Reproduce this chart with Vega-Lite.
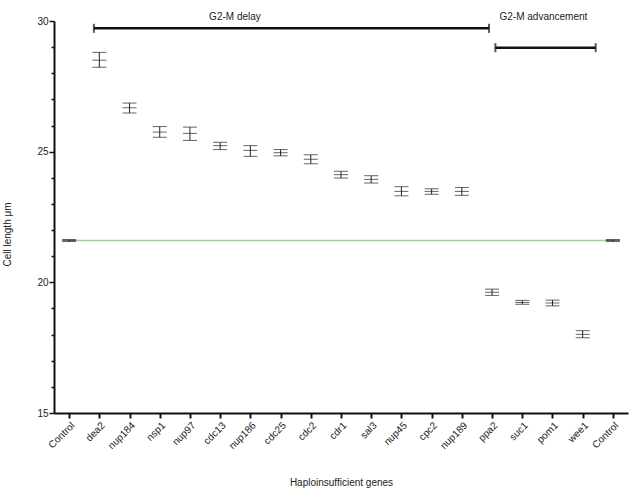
{
  "$schema": "https://vega.github.io/schema/vega-lite/v6.json",
  "width": 574,
  "height": 392,
  "autosize": {"type": "none"},
  "padding": {"left": 54, "top": 21, "right": 8, "bottom": 78},
  "background": "white",
  "config": {
    "view": {"stroke": null},
    "font": "Liberation Sans",
    "axis": {"labelFont": "Liberation Sans", "titleFont": "Liberation Sans", "labelColor": "#222", "titleColor": "#222", "titleFontWeight": "normal", "labelFontSize": 10, "titleFontSize": 10, "grid": false}
  },
  "datasets": {
    "genes": [
      {"key": "Control-a", "gene": "Control", "mean": 21.6, "lo": 21.56, "hi": 21.64},
      {"key": "dea2", "gene": "dea2", "mean": 28.5, "lo": 28.23, "hi": 28.8},
      {"key": "nup184", "gene": "nup184", "mean": 26.68, "lo": 26.48, "hi": 26.86},
      {"key": "nsp1", "gene": "nsp1", "mean": 25.75, "lo": 25.55, "hi": 25.96},
      {"key": "nup97", "gene": "nup97", "mean": 25.7, "lo": 25.43, "hi": 25.94},
      {"key": "cdc13", "gene": "cdc13", "mean": 25.23, "lo": 25.08, "hi": 25.36},
      {"key": "nup186", "gene": "nup186", "mean": 25.05, "lo": 24.82, "hi": 25.23},
      {"key": "cdc25", "gene": "cdc25", "mean": 24.96, "lo": 24.84, "hi": 25.08},
      {"key": "cdc2", "gene": "cdc2", "mean": 24.71, "lo": 24.54, "hi": 24.88},
      {"key": "cdr1", "gene": "cdr1", "mean": 24.12, "lo": 23.99, "hi": 24.25},
      {"key": "sal3", "gene": "sal3", "mean": 23.94, "lo": 23.8, "hi": 24.08},
      {"key": "nup45", "gene": "nup45", "mean": 23.48, "lo": 23.31, "hi": 23.66},
      {"key": "cpc2", "gene": "cpc2", "mean": 23.48, "lo": 23.37, "hi": 23.58},
      {"key": "nup189", "gene": "nup189", "mean": 23.48, "lo": 23.33, "hi": 23.63},
      {"key": "ppa2", "gene": "ppa2", "mean": 19.62, "lo": 19.5, "hi": 19.74},
      {"key": "suc1", "gene": "suc1", "mean": 19.23, "lo": 19.16, "hi": 19.31},
      {"key": "pom1", "gene": "pom1", "mean": 19.21, "lo": 19.1, "hi": 19.32},
      {"key": "wee1", "gene": "wee1", "mean": 18.01, "lo": 17.88, "hi": 18.15},
      {"key": "Control-b", "gene": "Control", "mean": 21.6, "lo": 21.56, "hi": 21.64}
    ],
    "brackets": [
      {"label": "G2-M delay", "x0": 1.32, "x1": 14.4, "y": 29.72, "tx": 5.99, "ty": 30.15},
      {"label": "G2-M advancement", "x0": 14.61, "x1": 17.93, "y": 28.98, "tx": 16.2, "ty": 30.15}
    ],
    "baseline": [
      {"x0": 0.5, "x1": 18.5, "y": 21.6}
    ]
  },
  "resolve": {"scale": {"x": "independent"}, "axis": {"x": "independent"}},
  "layer": [
    {
      "data": {"name": "baseline"},
      "mark": {"type": "rule", "color": "#98d698", "strokeWidth": 1.3},
      "encoding": {
        "x": {"field": "x0", "type": "quantitative", "scale": {"domain": [0, 19], "nice": false, "zero": false}, "axis": null},
        "x2": {"field": "x1"},
        "y": {
          "field": "y", "type": "quantitative",
          "scale": {"domain": [15, 30], "nice": false, "zero": false},
          "axis": {
            "title": "Cell length μm",
            "values": [15, 15.5, 16, 16.5, 17, 17.5, 18, 18.5, 19, 19.5, 20, 20.5, 21, 21.5, 22, 22.5, 23, 23.5, 24, 24.5, 25, 25.5, 26, 26.5, 27, 27.5, 28, 28.5, 29, 29.5, 30],
            "tickCount": 100,
            "format": "d",
            "labelExpr": "datum.value % 5 === 0 ? datum.label : ''",
            "labelOverlap": false,
            "tickSize": {"condition": {"test": "datum.value % 5 === 0", "value": 5}, "value": 3},
            "domainColor": "#111", "domainWidth": 2, "tickColor": "#111", "tickWidth": 1.5,
            "labelPadding": 1, "titleX": -42, "titleY": 213
          }
        }
      }
    },
    {
      "data": {"name": "genes"},
      "encoding": {
        "x": {
          "field": "key", "type": "nominal",
          "sort": ["Control-a", "dea2", "nup184", "nsp1", "nup97", "cdc13", "nup186", "cdc25", "cdc2", "cdr1", "sal3", "nup45", "cpc2", "nup189", "ppa2", "suc1", "pom1", "wee1", "Control-b"],
          "scale": {"type": "point", "padding": 0.5},
          "axis": {
            "title": "Haploinsufficient genes",
            "labelExpr": "indexof(datum.label, 'Control') === 0 ? 'Control' : datum.label",
            "labelAngle": -45, "labelAlign": "right", "labelBaseline": "top", "labelPadding": 2,
            "domainColor": "#111", "domainWidth": 2, "tickColor": "#111", "tickWidth": 2, "tickSize": 5,
            "titlePadding": 20, "titleY": 64
          }
        },
        "y": {"field": "mean", "type": "quantitative"}
      },
      "layer": [
        {"mark": {"type": "rule", "color": "#222", "strokeWidth": 1}, "encoding": {"y": {"field": "lo", "type": "quantitative"}, "y2": {"field": "hi"}}},
        {"mark": {"type": "tick", "color": "#222", "thickness": 1, "size": 14}, "encoding": {"y": {"field": "lo", "type": "quantitative"}}},
        {"mark": {"type": "tick", "color": "#222", "thickness": 1, "size": 14}, "encoding": {"y": {"field": "hi", "type": "quantitative"}}},
        {"mark": {"type": "tick", "color": "#222", "thickness": 1, "size": 14}}
      ]
    },
    {
      "data": {"name": "brackets"},
      "encoding": {
        "x": {"field": "x0", "type": "quantitative", "scale": {"domain": [0, 19], "nice": false, "zero": false}, "axis": null},
        "y": {"field": "y", "type": "quantitative"}
      },
      "layer": [
        {"mark": {"type": "rule", "color": "#111", "strokeWidth": 2.5}, "encoding": {"x2": {"field": "x1"}}},
        {"mark": {"type": "tick", "orient": "vertical", "color": "#111", "thickness": 2, "size": 9}},
        {"mark": {"type": "tick", "orient": "vertical", "color": "#111", "thickness": 2, "size": 9}, "encoding": {"x": {"field": "x1", "type": "quantitative"}}},
        {"mark": {"type": "text", "fontSize": 10, "color": "#222", "font": "Liberation Sans", "clip": false}, "encoding": {"x": {"field": "tx", "type": "quantitative"}, "y": {"field": "ty", "type": "quantitative"}, "text": {"field": "label"}}}
      ]
    }
  ]
}
